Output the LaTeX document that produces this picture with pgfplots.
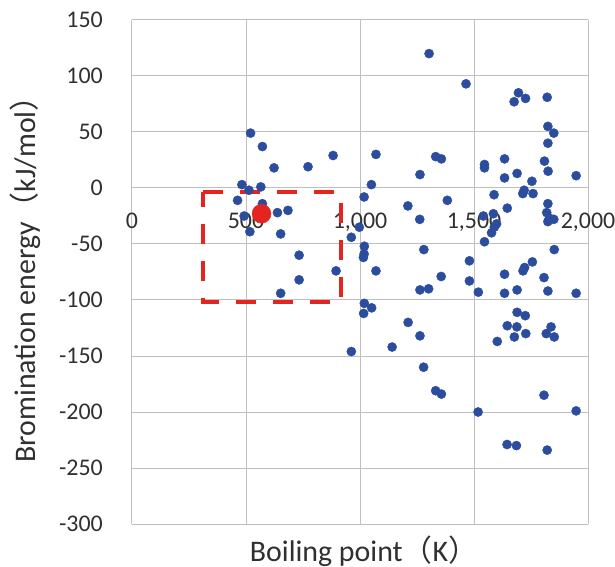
\documentclass[border=0pt]{standalone}
\usepackage{fontspec}
\setmainfont{Carlito}
\newfontfamily\cjk{Noto Sans CJK JP}
\usepackage{pgfplots}
\pgfplotsset{compat=1.18}
\definecolor{dotblue}{RGB}{44,77,158}
\definecolor{mred}{RGB}{228,36,32}
\definecolor{gridgray}{RGB}{191,191,191}
\definecolor{txt}{RGB}{48,48,48}
\begin{document}
\begin{tikzpicture}
\begin{axis}[
  scale only axis, width=456bp, height=504bp,
  xmin=0, xmax=2000, ymin=-300, ymax=150,
  axis x line=middle, axis y line=left,
  axis line style={gridgray, line width=1bp, -},
  hide obscured x ticks=false, hide obscured y ticks=false,
  major tick length=0pt,
  xtick={0,500,1000,1500,2000},
  xticklabels={0,500,{1,000},{1,500},{2,000}},
  ytick={-300,-250,-200,-150,-100,-50,0,50,100,150},
  yticklabels={-300,-250,-200,-150,-100,-50,0,50,100,150},
  xmajorgrids, ymajorgrids,
  major grid style={gridgray, line width=1bp},
  xticklabel style={anchor=north, inner sep=0pt, yshift=-25bp, font=\fontsize{24}{24}\selectfont, text=txt},
  yticklabel style={anchor=east, inner sep=0pt, xshift=-29bp, font=\fontsize{24}{24}\selectfont, text=txt},
  xlabel={Boiling point{\cjk（}K{\cjk）}},
  ylabel={Bromination energy{\cjk（}kJ/mol{\cjk）}},
  xlabel style={at={(axis description cs:0.5,0)}, anchor=base, inner sep=0pt, yshift=-37bp, xshift=4bp, font=\fontsize{30}{30}\selectfont, text=txt},
  ylabel style={at={(axis description cs:0,0.5)}, anchor=center, inner sep=0pt, yshift=107bp, font=\fontsize{30}{30}\selectfont, text=txt},
]
\addplot[only marks, mark=*, mark size=4.6bp, mark options={draw=dotblue, fill=dotblue}] coordinates {
(520,49) (572,37) (623,18) (772,19) (882,29) (482,3) (513,-2) (565,1)
(463,-11) (572,-14) (638,-22) (684,-20) (492,-25) (517,-39) (652,-41)
(733,-60) (733,-82) (652,-94) (895,-74) (962,-44) (997,-35) (1018,-8)
(1050,3) (1070,30) (1019,-52) (1018,-59) (1015,-62) (1070,-74)
(1019,-103) (1051,-107) (1016,-112) (962,-146) (1141,-142)
(1303,120) (1465,93) (1332,28) (1357,26) (1263,12) (1210,-16) (1383,-11)
(1262,-28) (1280,-55) (1480,-65) (1480,-83) (1356,-79) (1263,-91)
(1301,-90) (1519,-93) (1211,-120) (1263,-132) (1279,-160) (1332,-181)
(1357,-184) (1518,-200)
(1695,85) (1676,77) (1726,80) (1821,81) (1824,55) (1850,49) (1824,40)
(1546,21) (1546,18) (1634,26) (1809,24) (1825,15) (1634,9) (1689,13)
(1754,6) (1948,11) (1588,-6) (1714,-5) (1720,-2) (1759,-5) (1646,-18)
(1824,-14) (1819,-22) (1831,-27) (1850,-28) (1824,-30) (1541,-25)
(1585,-23) (1599,-32) (1589,-35) (1577,-40) (1546,-48) (1852,-55)
(1634,-77) (1715,-74) (1722,-71) (1756,-66) (1807,-80) (1634,-94)
(1689,-91) (1824,-92) (1948,-94) (1689,-111) (1725,-114) (1646,-123)
(1688,-124) (1727,-130) (1677,-133) (1602,-137) (1838,-124) (1817,-130)
(1852,-133) (1807,-185) (1948,-199) (1645,-229) (1686,-230) (1821,-234)
};
\addplot[mred, line width=4bp, dash pattern=on 20bp off 17bp, no markers] coordinates {
(312,-4) (917,-4) (917,-102) (312,-102) (312,-4)
};
\addplot[only marks, mark=*, mark size=9.5bp, mark options={draw=mred, fill=mred}] coordinates {(568,-23)};
\end{axis}
\pgfresetboundingbox
\path ([shift={(-132bp,-43bp)}]current axis.south west) rectangle ([shift={(27bp,20bp)}]current axis.north east);
\end{tikzpicture}
\end{document}
